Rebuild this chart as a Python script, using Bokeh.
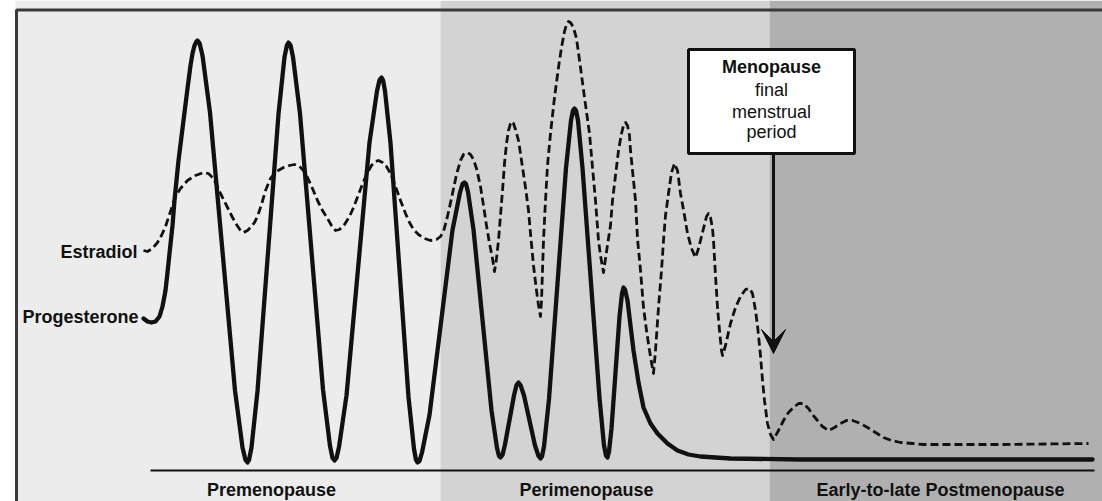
from bokeh.plotting import figure
from bokeh.models import Range1d, Label, Arrow, VeeHead
from bokeh.embed import file_html
from bokeh.resources import INLINE

# ---- Phases (time axis, arbitrary units) ----
phase_names = ["Premenopause", "Perimenopause", "Early-to-late Postmenopause"]
phase_start = [15, 440, 769]
phase_end = [440, 769, 1110]
phase_colors = ["#ececec", "#d3d3d3", "#b0b0b0"]
phase_label_x = [271, 586, 940]

# final menstrual period
fmp_time = 773
fmp_lines = ["Menopause", "final", "menstrual", "period"]

# ---- Progesterone (solid) ----
prog_t = [143, 147, 151, 155, 159, 162, 165, 167, 169, 172, 174, 178, 183, 187, 190, 192, 194, 196, 197,
          199, 202, 209.5, 222, 234.5, 242, 245, 247,
          248.5, 251, 257, 267.5, 278, 284, 286.5, 288,
          290, 292.5, 299.5, 311, 322.5, 329.5, 332, 334,
          336, 338.5, 346, 357.5, 369, 376.5, 379, 381,
          382.5, 384.5, 390, 399, 408, 413.5, 415.5, 417,
          419, 421.5, 429, 440.5, 452, 459.5, 462, 464,
          465.5, 467.5, 473, 482, 491, 496.5, 498.5, 500,
          502, 504.5, 509, 513.5, 516, 518,
          520, 523.5, 529, 534.5, 538, 540,
          541.5, 543.5, 548.5, 557, 565.5, 570.5, 572.5, 574,
          575.5, 577.5, 582, 590.5, 599, 603.5, 605.5, 607,
          608.5, 611, 615, 619, 621.5, 623,
          624.5, 627, 630, 633, 638, 643, 650, 657, 667, 677, 688, 700, 730, 800, 1092]
prog_level = [152, 149, 148, 149, 154, 164, 180, 198, 217, 245, 270, 310, 350, 382, 405, 417, 425, 429, 430,
              427.5, 415, 358, 219, 80, 23, 10.5, 8,
              10.5, 23, 79.5, 218, 356.5, 413.5, 425.5, 428,
              425.5, 413.5, 357, 219, 81, 24.5, 12.5, 10,
              12.5, 23.5, 75, 201.5, 328, 379.5, 390.5, 393,
              390.5, 379.5, 327.5, 200.5, 73.5, 21.5, 10.5, 8,
              9.5, 18, 55.5, 148, 240.5, 278, 286.5, 288,
              286.5, 278.5, 241, 150.5, 60, 22.5, 14.5, 13,
              15.5, 26, 50.5, 75, 85.5, 88,
              85.5, 75, 50, 25, 14.5, 12,
              14, 24, 71.5, 187, 302.5, 350, 360, 362,
              360, 350, 302.5, 187.5, 72.5, 25, 15, 13,
              19, 42, 98, 154, 177, 183,
              181, 170, 145, 120, 88, 63, 47, 37, 27, 20, 16, 14, 12, 11, 11]

# ---- Estradiol (dashed) ----
estr_t = [143, 147, 152, 157, 161, 165, 168, 171, 175, 180, 187, 195, 203, 208, 212, 216, 220, 224, 228, 232,
          236, 240, 243, 247, 251, 254, 257, 261, 265, 270, 276, 283, 289, 294, 299, 303, 307, 312, 317, 322,
          327, 331, 335, 339, 344, 349, 353, 358, 363, 367, 371, 375, 378, 382, 386, 390, 395, 400, 405, 409,
          413, 418, 424, 430, 436, 440,
          443, 446, 449, 452, 456, 460, 463, 467, 470, 473, 476, 480, 483, 486, 489, 492, 494,
          496, 498, 500, 502, 504, 506, 508, 510, 511, 513, 515, 518, 521, 525, 528, 530, 533, 536, 538, 540,
          541, 542, 543, 545, 547, 550, 554, 558, 561, 564, 566, 568, 570, 573, 576, 580, 584, 589, 592, 595,
          598, 600, 603,
          605, 608, 610, 612, 615, 618, 621, 623, 625, 627, 629, 630, 632, 635, 637, 640, 643, 646, 649, 651, 653,
          655, 658, 661, 663, 665, 668, 671, 674, 677, 680, 684, 687, 691, 695,
          698, 700, 703, 706, 708, 710, 712, 713, 715, 717, 719, 721, 722,
          725, 730, 735, 740, 745, 749, 752, 755, 757, 760, 762, 764, 767, 770, 773,
          778, 783, 788, 793, 798, 803, 808, 812, 817, 822, 828, 834, 840, 846, 852, 860, 867, 875, 883, 891,
          900, 912, 923, 1000, 1088]
estr_level = [220, 219, 222, 228, 235, 244, 253, 262, 274, 282, 290, 295, 298, 297, 293, 286, 277, 269, 261, 253,
              246, 240, 238, 240, 244, 248, 254, 266, 280, 292, 299, 303, 305, 306, 304, 300, 293, 282, 270, 260,
              252, 245, 240, 241, 246, 254, 263, 276, 289, 298, 305, 309, 310, 308, 304, 297, 284, 270, 257, 248,
              241, 236, 232, 230, 231, 234,
              239, 250, 263, 277, 296, 310, 316, 318, 316, 311, 302, 284, 265, 245, 227, 212, 199,
              212, 230, 255, 280, 307, 327, 340, 347, 349, 347, 341, 330, 310, 283, 260, 237, 205, 180, 165, 154,
              170, 200, 230, 270, 305, 337, 373, 403, 423, 439, 446, 449, 448, 443, 432, 403, 373, 337, 303, 270,
              230, 215, 198,
              212, 232, 245, 270, 295, 320, 337, 345, 348, 345, 335, 320, 300, 270, 232, 200, 163, 140, 120, 108, 97,
              120, 163, 200, 230, 255, 277, 298, 307, 300, 277, 255, 237, 222, 213,
              222, 230, 242, 254, 257, 253, 242, 230, 195, 163, 140, 120, 115,
              125, 147, 163, 174, 181, 182, 177, 160, 145, 115, 90, 70, 47, 36, 31,
              40, 50, 58, 63, 67, 67, 62, 56, 50, 44, 40, 43, 47, 50, 50, 47, 43, 38, 33, 30,
              28, 27, 26, 26, 27]

INK = "#111111"
FONT = "Liberation Sans"

p = figure(width=1102, height=501, x_range=Range1d(0, 1102), y_range=Range1d(-31, 470),
           output_backend="svg", toolbar_location=None, min_border=0,
           x_axis_location=None, y_axis_location=None)
p.grid.visible = False
p.outline_line_color = None
p.background_fill_color = "white"
p.border_fill_color = "white"

# phase backgrounds
p.quad(left=phase_start, right=phase_end, top=470, bottom=-60,
       fill_color=phase_colors, line_color=None)
# frame (top and left edges visible)
p.quad(left=16, right=1130, top=460.5, bottom=-80, fill_color=None,
       line_color="#3a3a3a", line_width=3)

# baseline
p.line(x=[150, 1094], y=[0, 0], line_color=INK, line_width=2)

# hormone curves
p.line(estr_t, estr_level, line_color=INK, line_width=2.8, line_dash="8 4",
       line_join="round")
p.line(prog_t, prog_level, line_color=INK, line_width=4.3, line_join="round",
       line_cap="round")

# menopause box and arrow
p.quad(left=688, right=854, top=421, bottom=317, fill_color="white",
       line_color=INK, line_width=3)
p.add_layout(Arrow(end=VeeHead(size=24, fill_color=INK, line_color=INK),
                   x_start=fmp_time, y_start=317, x_end=fmp_time, y_end=117,
                   line_color=INK, line_width=3))
for i, (txt, yy) in enumerate(zip(fmp_lines, [404, 381, 359, 339])):
    p.add_layout(Label(x=771, y=yy, text=txt, text_align="center",
                       text_baseline="alphabetic", text_font=FONT,
                       text_font_size="18px", text_color=INK,
                       text_font_style="bold" if i == 0 else "normal"))

# series labels
p.add_layout(Label(x=137, y=219, text="Estradiol", text_align="right",
                   text_baseline="alphabetic", text_font=FONT, text_font_size="18px",
                   text_font_style="bold", text_color=INK))
p.add_layout(Label(x=138, y=154, text="Progesterone", text_align="right",
                   text_baseline="alphabetic", text_font=FONT, text_font_size="18px",
                   text_font_style="bold", text_color=INK))

# phase labels
for name, lx in zip(phase_names, phase_label_x):
    p.add_layout(Label(x=lx, y=-19, text=name, text_align="center",
                       text_baseline="alphabetic", text_font=FONT,
                       text_font_size="18px", text_font_style="bold",
                       text_color=INK))

open("out.html", "w").write(file_html(p, INLINE))
